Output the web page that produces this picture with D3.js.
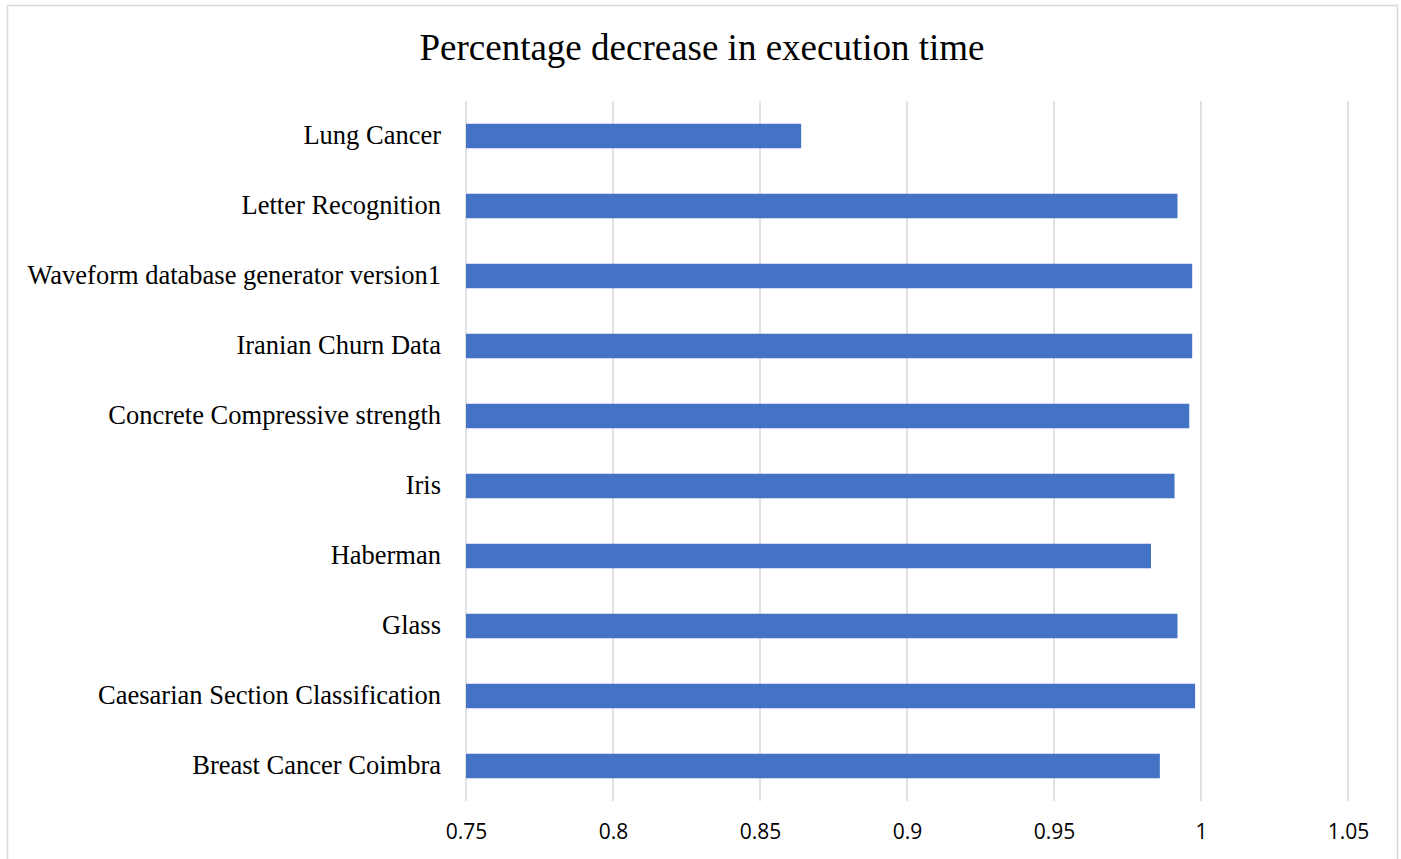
<!DOCTYPE html>
<html>
<head>
<meta charset="utf-8">
<script src="https://cdn.jsdelivr.net/npm/d3@7"></script>
<style>
  html, body { margin: 0; padding: 0; background: #fff; }
  svg { display: block; }
</style>
</head>
<body>
<svg id="chart" width="1401" height="859"></svg>
<script>
const categories = [
  "Lung Cancer",
  "Letter Recognition",
  "Waveform database generator version1",
  "Iranian Churn Data",
  "Concrete Compressive strength",
  "Iris",
  "Haberman",
  "Glass",
  "Caesarian Section Classification",
  "Breast Cancer Coimbra"
];
const values = [0.864, 0.992, 0.997, 0.997, 0.996, 0.991, 0.983, 0.992, 0.998, 0.986];
const tickValues = [0.75, 0.8, 0.85, 0.9, 0.95, 1, 1.05];
const titleText = "Percentage decrease in execution time";

const svg = d3.select("#chart");
const W = 1401, H = 859;
const margin = { left: 466, right: 53, top: 101, bottom: 58 };

// outer chart border
svg.append("rect")
  .attr("x", 7.5).attr("y", 5.5)
  .attr("width", 1390).attr("height", 880)
  .attr("fill", "#fff").attr("stroke", "#d9d9d9").attr("stroke-width", 1.5);

const x = d3.scaleLinear().domain([0.75, 1.05]).range([margin.left, W - margin.right]);
const y = d3.scaleBand().domain(categories).range([margin.top, H - margin.bottom]).paddingInner(0.65).paddingOuter(0.325);

// gridlines
svg.append("g")
  .selectAll("line")
  .data(tickValues)
  .join("line")
  .attr("x1", d => x(d)).attr("x2", d => x(d))
  .attr("y1", margin.top).attr("y2", H - margin.bottom)
  .attr("stroke", "#d9d9d9").attr("stroke-width", 1.5);

// bars
svg.append("g")
  .selectAll("rect")
  .data(categories)
  .join("rect")
  .attr("x", x(0.75))
  .attr("y", d => y(d))
  .attr("width", (d, i) => x(values[i]) - x(0.75))
  .attr("height", y.bandwidth())
  .attr("fill", "#4472C4");

// x axis
const xAxis = svg.append("g")
  .attr("transform", `translate(0,${H - margin.bottom})`)
  .call(d3.axisBottom(x).tickValues(tickValues).tickFormat(d => String(d)).tickSize(0).tickPadding(23));
xAxis.select(".domain").remove();
xAxis.selectAll("text")
  .attr("font-family", "'Open Sans', 'Noto Sans', sans-serif")
  .attr("font-size", 21)
  .attr("fill", "#000");

// y axis
const yAxis = svg.append("g")
  .attr("transform", `translate(${margin.left},0)`)
  .call(d3.axisLeft(y).tickSize(0).tickPadding(25));
yAxis.select(".domain").remove();
yAxis.selectAll("text")
  .attr("font-family", "'Liberation Serif', 'Times New Roman', serif")
  .attr("font-size", 26.5)
  .attr("dy", "0.3em")
  .attr("fill", "#000");

// title
svg.append("text")
  .attr("x", 702).attr("y", 60)
  .attr("text-anchor", "middle")
  .attr("font-family", "'Liberation Serif', 'Times New Roman', serif")
  .attr("font-size", 37)
  .attr("fill", "#000")
  .text(titleText);
</script>
</body>
</html>
